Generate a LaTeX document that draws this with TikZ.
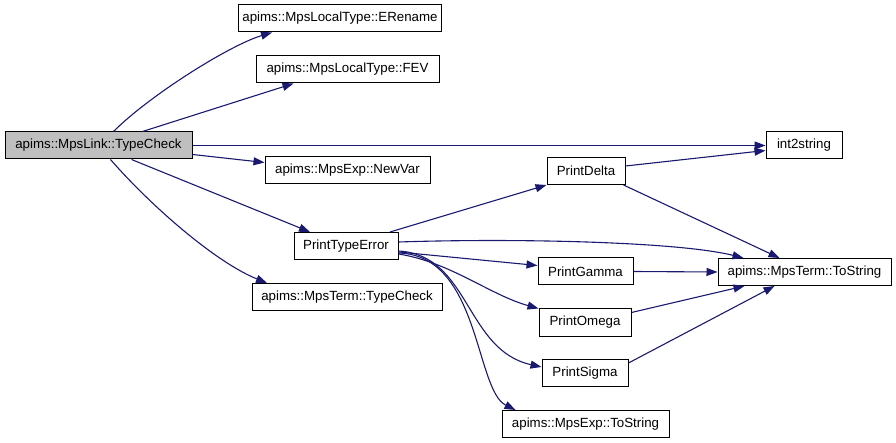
\documentclass[tikz,border=0pt]{standalone}
\usepackage{fontspec}
\setmainfont{Liberation Sans}
\usetikzlibrary{arrows.meta}
\definecolor{cEdge}{HTML}{191970}
\definecolor{cRoot}{HTML}{BFBFBF}
\tikzset{
  fn/.style={draw=black,line width=1pt,minimum height=27pt,inner sep=0pt,
             font=\fontsize{13.3}{15}\selectfont},
  call/.style={cEdge,line width=1.1pt,-{Triangle[length=11pt,width=8pt]}}
}

\begin{document}
\begin{tikzpicture}[x=1pt,y=-1pt]
  \useasboundingbox (0,0) rectangle (896,443);
  \node[fn,fill=cRoot,minimum width=187pt] (root) at (98.5,145.5) {apims::MpsLink::TypeCheck};
  \foreach \n/\x/\y/\w/\t in {erename/340/18.5/203/apims::MpsLocalType::ERename,
                             fev/347.5/69.5/183/apims::MpsLocalType::FEV,
                             int2string/804/145.5/76/int2string,
                             newvar/347.5/170.5/165/apims::MpsExp::NewVar,
                             pdelta/586/171/78/PrintDelta,
                             pte/346/246/104/PrintTypeError,
                             pgamma/585.5/271.5/95/PrintGamma,
                             tstr/804.5/272/173/apims::MpsTerm::ToString,
                             ttc/347/297/190/apims::MpsTerm::TypeCheck,
                             pomega/585/322.5/92/PrintOmega,
                             psigma/585/373/86/PrintSigma,
                             estr/585.5/424/167/apims::MpsExp::ToString}{
    \node[fn,minimum width=\w pt] (\n) at (\x,\y) {\t};
  }
  % calls from the root
  \draw[call] ([xshift=15pt]root.north) .. controls (150,95) and (230,45) .. ([xshift=-68pt]erename.south);
  \draw[call] ([xshift=44pt]root.north) -- ([xshift=-54pt]fev.south);
  \draw[call] (root.east) -- (int2string.west);
  \draw[call] ([yshift=-9pt]root.east) -- ([yshift=8pt]newvar.west);
  \draw[call] ([xshift=33pt]root.south) -- ([xshift=-36pt]pte.north);
  \draw[call] ([xshift=12pt]root.south) .. controls (150,205) and (215,262) .. ([xshift=-80pt]ttc.north);
  % calls from PrintTypeError
  \draw[call] ([xshift=44pt]pte.north) -- (pdelta.south west);
  \draw[call] ([yshift=4pt]pte.east) .. controls (520,238) and (680,242) .. ([xshift=26pt]tstr.north west);
  \draw[call] ([yshift=-6pt]pte.east) -- ([yshift=6pt]pgamma.west);
  \draw[call] ([yshift=-8pt]pte.east) .. controls (450,262) and (490,295) .. (pomega.north west);
  \draw[call] ([yshift=-5pt]pte.east) .. controls (470,255) and (465,350) .. ([yshift=6pt]psigma.west);
  \draw[call] ([yshift=-7pt]pte.east) .. controls (480,255) and (475,390) .. ([xshift=-70pt]estr.north);
  % calls into the leaves
  \draw[call] ([yshift=5pt]pdelta.east) -- ([yshift=-5pt]int2string.west);
  \draw[call] ([xshift=-2pt]pdelta.south east) -- ([xshift=-25pt]tstr.north);
  \draw[call] (pgamma.east) -- (tstr.west);
  \draw[call] ([yshift=10pt]pomega.east) -- ([xshift=-60pt]tstr.south);
  \draw[call] ([yshift=10pt]psigma.east) -- ([xshift=-30pt]tstr.south);
\end{tikzpicture}
\end{document}
